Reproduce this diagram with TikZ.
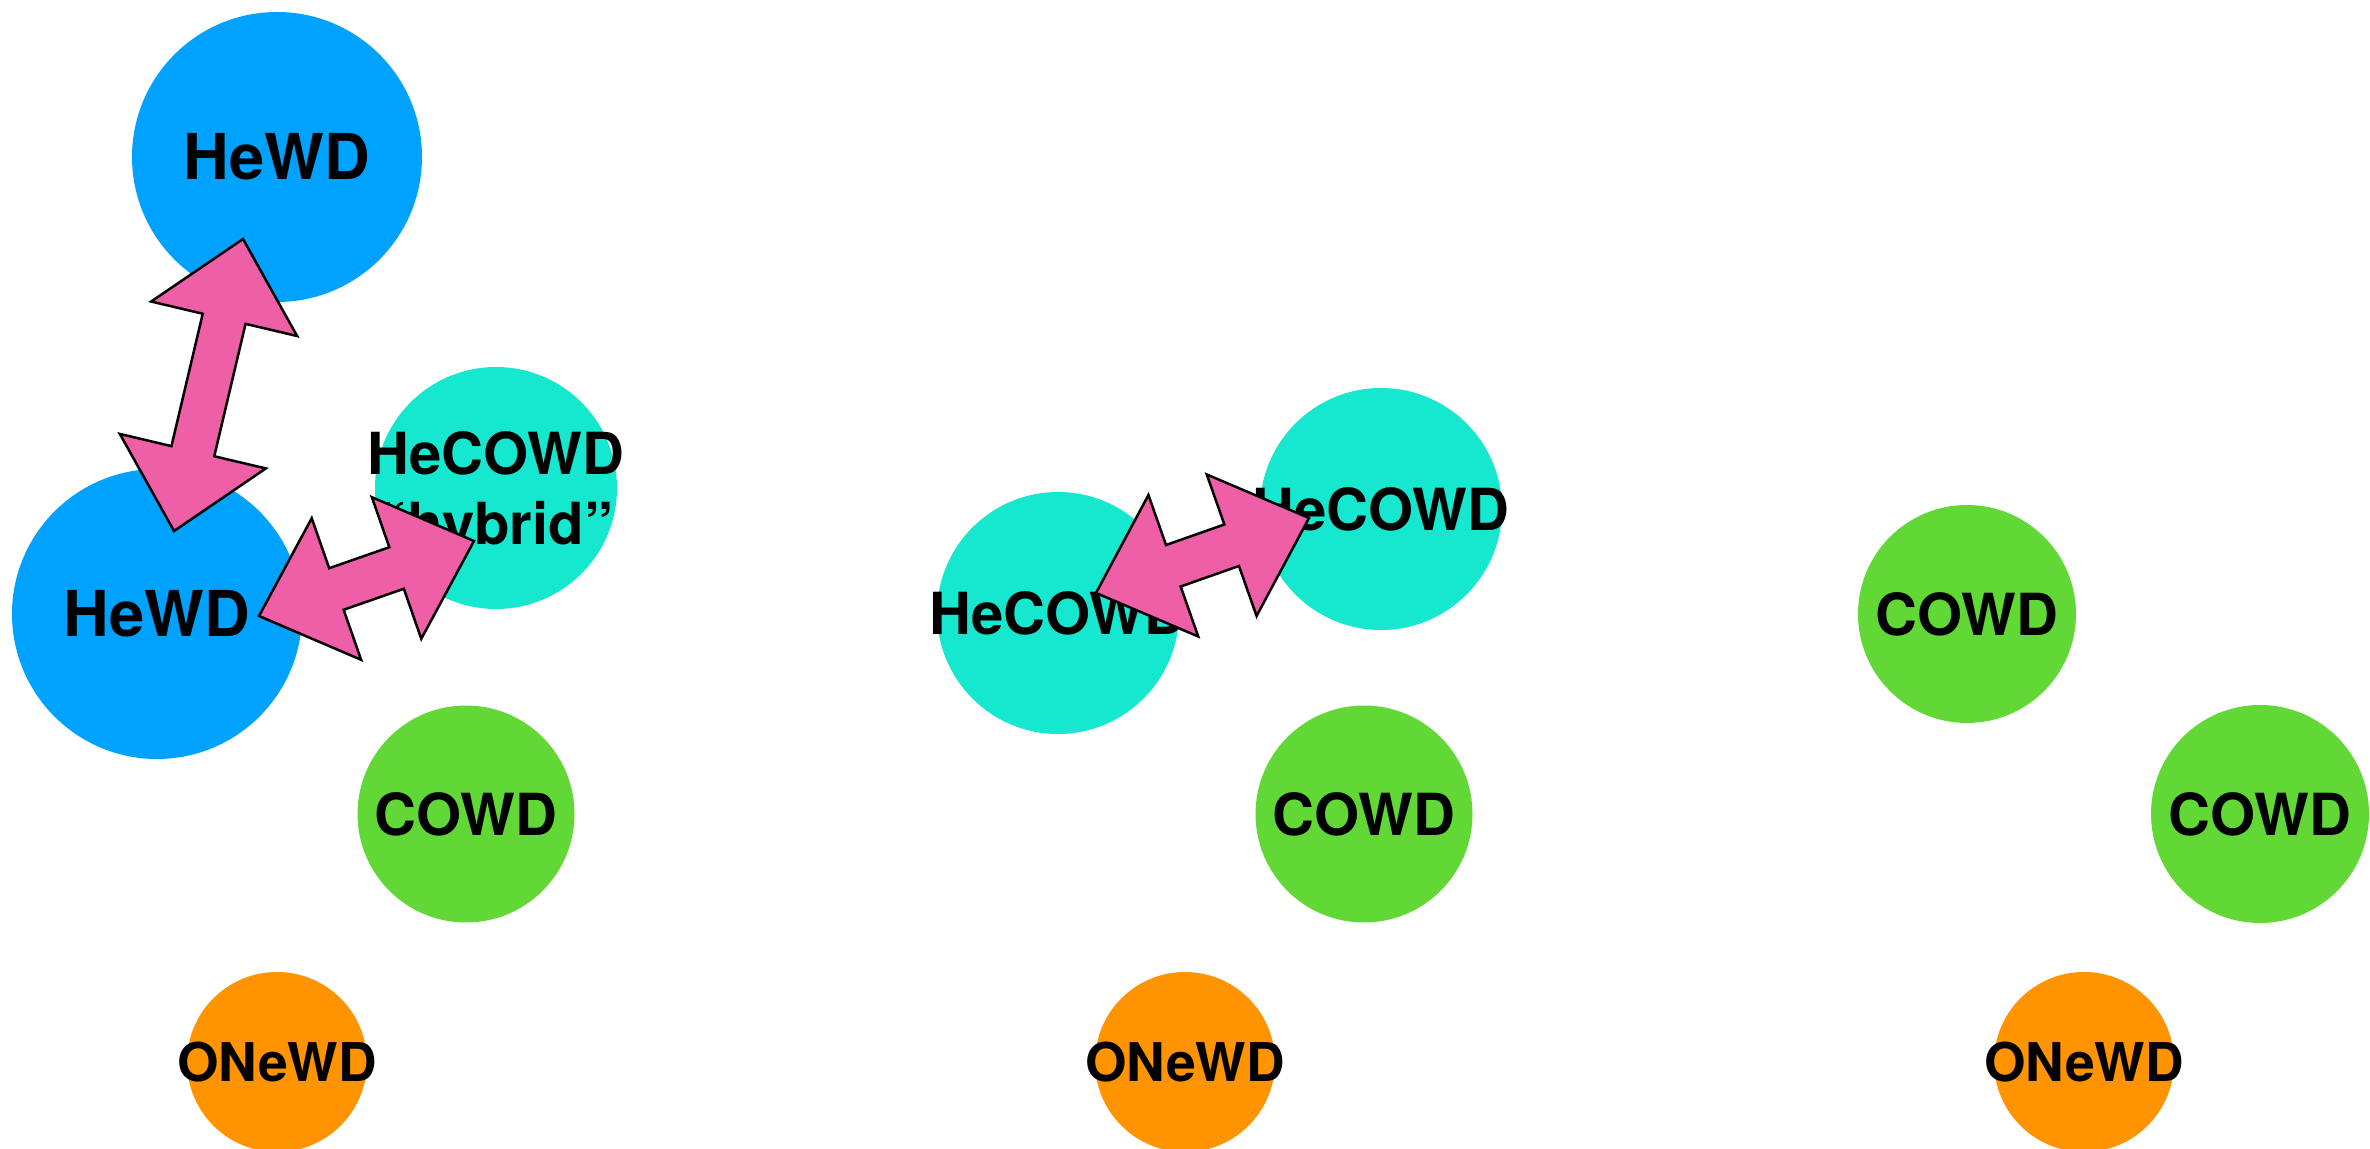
\documentclass[tikz,border=0pt]{standalone}
\usepackage{fontspec}
\setmainfont{TeX Gyre Heros}
\usetikzlibrary{calc}

\definecolor{heblue}{HTML}{00A2FF}
\definecolor{coteal}{HTML}{16E7CF}
\definecolor{cogreen}{HTML}{61D836}
\definecolor{oneorange}{HTML}{FF9300}
\definecolor{mergepink}{HTML}{EF5FA7}

% fat double arrow between two tip coordinates
\newcommand{\fatarrow}[2]{%
  \filldraw[fatarrowstyle] (#1)
    -- ($(#1)!8.2mm!(#2)!7.5mm!90:(#2)$)
    -- ($(#1)!8.2mm!(#2)!2.2mm!90:(#2)$)
    -- ($(#2)!8.2mm!(#1)!2.2mm!-90:(#1)$)
    -- ($(#2)!8.2mm!(#1)!7.5mm!-90:(#1)$)
    -- (#2)
    -- ($(#2)!8.2mm!(#1)!7.5mm!90:(#1)$)
    -- ($(#2)!8.2mm!(#1)!2.2mm!90:(#1)$)
    -- ($(#1)!8.2mm!(#2)!2.2mm!-90:(#2)$)
    -- ($(#1)!8.2mm!(#2)!7.5mm!-90:(#2)$)
    -- cycle;}

\begin{document}
\begin{tikzpicture}[x=0.1mm, y=-0.1mm,
    bigname/.style={inner sep=0pt, font=\bfseries\fontsize{18}{22}\selectfont},
    midname/.style={inner sep=0pt, font=\bfseries\fontsize{16.5}{20}\selectfont},
    smallname/.style={inner sep=0pt, font=\bfseries\fontsize{15.2}{18}\selectfont},
    fatarrowstyle/.style={fill=mergepink, draw=black, line width=0.25mm, line join=miter}]
    \useasboundingbox (0,0) rectangle (2370,1149);

    % left: HeWD + HeWD and HeWD + HeCOWD
    \fill[heblue] (277,157) circle (14.5mm);
    \node[bigname] (HeWDtop) at (277,157) {HeWD};
    \fill[heblue] (157,614) circle (14.5mm);
    \node[bigname] (HeWDbot) at (157,614) {HeWD};
    \fill[coteal] (496,488) circle (12.1mm);
    \node[midname, align=center, text depth=0pt] (Hybrid) at (496,488) {HeCOWD\\“hybrid”};
    \fill[cogreen] (466,814) circle (10.85mm);
    \node[midname] (COWDleft) at (466,814) {COWD};
    \fill[oneorange] (277,1062) circle (9mm);
    \node[smallname] (ONeWDleft) at (277,1062) {ONeWD};

    % middle: HeCOWD + HeCOWD
    \fill[coteal] (1058,613) circle (12.1mm);
    \node[midname] (HeCOWDa) at (1058,613) {HeCOWD};
    \fill[coteal] (1381,509) circle (12.1mm);
    \node[midname] (HeCOWDb) at (1381,509) {HeCOWD};
    \fill[cogreen] (1364,814) circle (10.85mm);
    \node[midname] (COWDmid) at (1364,814) {COWD};
    \fill[oneorange] (1185,1062) circle (9mm);
    \node[smallname] (ONeWDmid) at (1185,1062) {ONeWD};

    % right: COWD + COWD
    \fill[cogreen] (1967,614) circle (10.9mm);
    \node[midname] (COWDa) at (1967,614) {COWD};
    \fill[cogreen] (2260,814) circle (10.9mm);
    \node[midname] (COWDb) at (2260,814) {COWD};
    \fill[oneorange] (2084,1062) circle (9mm);
    \node[smallname] (ONeWDright) at (2084,1062) {ONeWD};

    % arrow tips
    \coordinate (HeHeUp) at (243,239);
    \coordinate (HeHeDown) at (174,531);
    \coordinate (HybridLeft) at (259,616);
    \coordinate (HybridRight) at (474,541);
    \coordinate (MidLeft) at (1096,593);
    \coordinate (MidRight) at (1309,518);

    \fatarrow{HeHeUp}{HeHeDown}
    \fatarrow{HybridLeft}{HybridRight}
    \fatarrow{MidLeft}{MidRight}
\end{tikzpicture}
\end{document}
